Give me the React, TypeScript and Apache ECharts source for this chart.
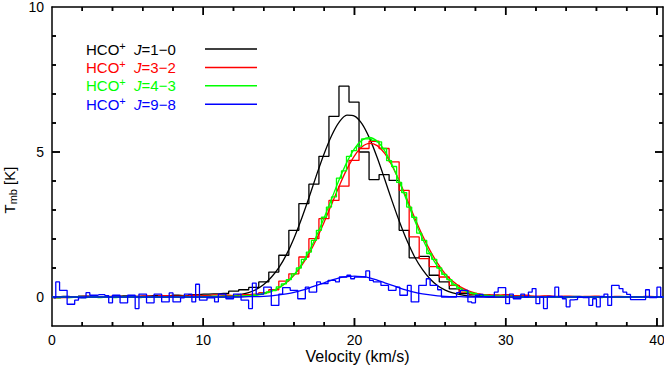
import React, { useEffect, useRef } from "react";
import * as echarts from "echarts";

const FONT = '"Liberation Sans", Arial, Helvetica, sans-serif';

// Axis extents and ticks
const X_MIN = 0;
const X_MAX = 40.4;
const Y_MIN = -1;
const Y_MAX = 10;
const X_LABELS = [0, 10, 20, 30, 40];
const X_TICKS = [2, 4, 6, 8, 10, 12, 14, 16, 18, 20, 22, 24, 26, 28, 30, 32, 34, 36, 38, 40];
const Y_LABELS = [0, 5, 10];
const Y_TICKS = [0, 1, 2, 3, 4, 5, 6, 7, 8, 9];

// Spectral channel grids (first channel centre, channel width, km/s)
const WIDE_V0 = 0.08;
const WIDE_DV = 0.663;
const GREEN_V0 = 0.08;
const GREEN_DV = 0.3315;
const BLUE_V0 = 0.125;
const BLUE_DV = 0.25;

// HCO+ J=1-0 spectrum (K)
const BLACK_HIST = [
  0.0, 0.02, 0.0, 0.03, 0.01, 0.0, 0.02, 0.04, 0.02, 0.03,
  0.05, 0.04, 0.06, 0.05, 0.08, 0.1, 0.11, 0.12, 0.2, 0.25,
  0.33, 0.52, 0.86, 1.44, 2.3, 3.22, 3.89, 4.85, 6.23, 7.27,
  6.72, 5.0, 4.05, 4.22, 4.02, 2.3, 1.35, 1.4, 0.75, 0.52,
  0.28, 0.12, 0.08, 0.05, 0.06, 0.03, 0.02, 0.03, 0.01, 0.02,
  0.0, 0.01, 0.02, 0.0, 0.01, 0.0, 0.01, 0.0, -0.01, 0.0,
  0.01, 0.0,
];

// HCO+ J=3-2 spectrum (K)
const RED_HIST = [
  -0.03, -0.02, 0.0, 0.02, 0.0, 0.01, 0.03, 0.01, 0.02, 0.04,
  0.02, 0.05, 0.03, 0.04, 0.06, 0.05, 0.07, 0.06, 0.05, 0.08,
  0.1, 0.15, 0.25, 0.55, 0.8, 1.38, 2.01, 2.7, 3.33, 3.82,
  4.71, 5.12, 5.37, 5.12, 4.66, 3.68, 2.07, 1.32, 1.05, 0.69,
  0.4, 0.17, 0.1, 0.08, 0.06, 0.08, 0.05, 0.06, 0.03, 0.04,
  0.02, 0.03, 0.01, 0.02, 0.03, 0.0, 0.02, 0.01, 0.0, 0.02,
  0.01, 0.0,
];

// HCO+ J=4-3 spectrum (K)
const GREEN_HIST = [
  -0.02, -0.03, 0.0, -0.02, -0.01, 0.01, -0.02, -0.01, 0.0, -0.02,
  -0.01, 0.0, -0.02, -0.01, 0.01, -0.01, 0.0, -0.02, 0.0, 0.01,
  -0.01, 0.0, 0.01, 0.0, -0.01, 0.01, 0.02, 0.0, 0.01, 0.02,
  0.01, 0.02, 0.03, 0.02, 0.03, 0.02, 0.04, 0.03, 0.04, 0.05,
  0.06, 0.08, 0.12, 0.18, 0.22, 0.35, 0.45, 0.6, 0.8, 1.0,
  1.3, 1.55, 1.95, 2.3, 2.75, 3.1, 3.45, 4.1, 4.35, 4.85,
  5.05, 5.2, 5.45, 5.45, 5.4, 5.35, 5.12, 4.7, 4.5, 3.95,
  3.6, 3.1, 2.75, 2.2, 1.95, 1.5, 1.3, 1.0, 0.78, 0.6,
  0.42, 0.3, 0.22, 0.15, 0.12, 0.08, 0.06, 0.05, 0.03, 0.04,
  0.02, 0.03, 0.01, 0.02, 0.0, 0.01, -0.01, 0.0, 0.01, -0.01,
  0.0, 0.01, -0.02, 0.0, -0.01, 0.01, 0.0, -0.01, 0.0, -0.02,
  0.0, 0.01, -0.01, 0.0, -0.01, 0.0, 0.01, -0.01, 0.0, -0.01,
  0.0, 0.0, -0.01,
];

// HCO+ J=9-8 spectrum (K)
const BLUE_HIST = [
  -0.03, 0.52, 0.23, 0.23, -0.25, -0.25, -0.11, -0.03, -0.03, 0.15,
  0.06, 0.06, 0.08, 0.08, 0.05, -0.2, 0.06, 0.06, -0.2, -0.2,
  0.06, 0.06, -0.4, 0.1, 0.1, -0.2, -0.2, 0.1, 0.1, -0.17,
  -0.17, 0.14, -0.17, -0.17, -0.03, 0.1, 0.1, -0.17, 0.44, -0.11,
  -0.11, -0.03, -0.03, -0.17, 0.1, 0.1, -0.06, -0.06, 0.1, 0.1,
  -0.11, -0.11, -0.4, 0.48, 0.1, 0.1, 0.34, 0.34, -0.29, -0.29,
  0.1, 0.32, 0.32, 0.23, 0.23, -0.06, -0.06, 0.34, 0.17, 0.17,
  0.52, 0.46, 0.46, 0.57, 0.57, 0.52, 0.69, 0.69, 0.75, 0.63,
  0.69, 0.69, 0.69, 0.9, 0.57, 0.52, 0.52, 0.4, 0.4, 0.23,
  0.23, 0.34, 0.06, 0.06, 0.4, -0.17, -0.17, 0.4, 0.4, 0.63,
  0.4, 0.4, 0.25, 0.0, 0.0, 0.0, 0.0, 0.15, 0.23, 0.23,
  -0.17, -0.2, 0.06, 0.09, 0.02, 0.02, 0.02, 0.17, 0.32, 0.32,
  -0.23, 0.1, -0.06, -0.06, 0.1, 0.0, 0.17, 0.29, -0.23, 0.0,
  -0.4, 0.02, 0.02, 0.34, 0.02, -0.06, -0.34, -0.1, -0.09, 0.0,
  -0.02, -0.02, -0.29, -0.06, -0.34, 0.02, 0.1, -0.29, 0.4, 0.4,
  0.29, 0.17, 0.09, -0.09, -0.09, -0.09, -0.09, 0.25, -0.02, -0.02,
  0.34, 0.0,
];

// Gaussian fit curves read at these velocities (km/s)
const FIT_V = [
  0, 5, 10, 11, 12, 12.5, 13, 13.5, 14, 14.5, 15, 15.5, 16, 16.5, 17, 17.5,
  18, 18.5, 19, 19.5, 20, 20.5, 21, 21.5, 22, 22.5, 23, 23.5, 24, 24.5, 25,
  25.5, 26, 26.5, 27, 27.5, 28, 28.5, 29, 30, 31, 35, 40.5,
];
const BLACK_FIT = [
  0, 0, 0.0, 0.01, 0.05, 0.09, 0.15, 0.26, 0.43, 0.68, 1.01, 1.46, 2.03, 2.7, 3.44, 4.22,
  4.95, 5.58, 6.04, 6.27, 6.24, 5.97, 5.47, 4.81, 4.06, 3.29, 2.56, 1.91, 1.36, 0.94, 0.62,
  0.39, 0.24, 0.14, 0.08, 0.04, 0.02, 0.01, 0.0, 0, 0, 0, 0,
];
const RED_FIT = [
  0, 0, 0, 0.0, 0.01, 0.02, 0.04, 0.07, 0.12, 0.2, 0.32, 0.5, 0.75, 1.08, 1.5, 2.01,
  2.59, 3.21, 3.84, 4.41, 4.87, 5.18, 5.3, 5.22, 4.95, 4.51, 3.96, 3.34, 2.71, 2.12, 1.6,
  1.16, 0.8, 0.54, 0.35, 0.22, 0.13, 0.07, 0.04, 0.01, 0.0, 0, 0,
];
const GREEN_FIT = [
  0, 0, 0, 0.0, 0.01, 0.02, 0.04, 0.07, 0.12, 0.2, 0.32, 0.51, 0.77, 1.13, 1.58, 2.12,
  2.74, 3.4, 4.06, 4.65, 5.12, 5.41, 5.5, 5.37, 5.04, 4.54, 3.93, 3.27, 2.61, 2.01, 1.48,
  1.05, 0.72, 0.47, 0.29, 0.18, 0.1, 0.06, 0.03, 0.01, 0.0, 0, 0,
];
const BLUE_FIT = [
  0, 0, 0, 0, 0.0, 0.0, 0.01, 0.01, 0.02, 0.04, 0.07, 0.11, 0.16, 0.23, 0.31, 0.4,
  0.49, 0.58, 0.66, 0.7, 0.72, 0.7, 0.66, 0.58, 0.49, 0.4, 0.31, 0.23, 0.16, 0.11, 0.07,
  0.04, 0.02, 0.01, 0.01, 0.0, 0.0, 0.0, 0, 0, 0, 0, 0,
];

// Legend
const LEGEND_SPECIES = "HCO";
const LEGEND_TRANSITIONS = ["=1−0", "=3−2", "=4−3", "=9−8"];
const LINE_COLORS = ["#000000", "#ff0000", "#00ff00", "#0000ff"];

const HISTS = [
  { v0: WIDE_V0, dv: WIDE_DV, data: BLACK_HIST },
  { v0: WIDE_V0, dv: WIDE_DV, data: RED_HIST },
  { v0: GREEN_V0, dv: GREEN_DV, data: GREEN_HIST },
  { v0: BLUE_V0, dv: BLUE_DV, data: BLUE_HIST },
];
const FITS = [BLACK_FIT, RED_FIT, GREEN_FIT, BLUE_FIT];

const MAJOR_LEN = 8;
const MINOR_LEN = 4;
const TICK_W = 1.5;

function buildOption() {
  const series: any[] = [];
  HISTS.forEach((h, k) => {
    series.push({
      type: "line",
      name: "hist" + k,
      step: "middle",
      symbol: "none",
      data: h.data.map((y, i) => [h.v0 + h.dv * i, y]),
      lineStyle: { color: LINE_COLORS[k], width: 1.3 },
      z: 2 + k * 2,
    });
    series.push({
      type: "line",
      name: "fit" + k,
      smooth: 0.3,
      symbol: "none",
      data: FIT_V.map((v, i) => [v, FITS[k][i]]),
      lineStyle: { color: LINE_COLORS[k], width: 1.3 },
      z: 3 + k * 2,
    });
  });

  // Tick marks through the axis scales (bottom + top, left + right)
  series.push({
    type: "custom",
    name: "xticks",
    data: X_TICKS.map((v) => [v, 0]),
    renderItem: (p: any, api: any) => {
      const v = api.value(0);
      const len = X_LABELS.indexOf(v) >= 0 ? MAJOR_LEN : MINOR_LEN;
      const b = api.coord([v, Y_MIN]);
      const t = api.coord([v, Y_MAX]);
      return {
        type: "group",
        children: [
          { type: "line", shape: { x1: b[0], y1: b[1], x2: b[0], y2: b[1] - len }, style: { stroke: "#000", lineWidth: TICK_W } },
          { type: "line", shape: { x1: t[0], y1: t[1], x2: t[0], y2: t[1] + len }, style: { stroke: "#000", lineWidth: TICK_W } },
        ],
      };
    },
  });
  series.push({
    type: "custom",
    name: "yticks",
    data: Y_TICKS.map((v) => [1, v]),
    renderItem: (p: any, api: any) => {
      const v = api.value(1);
      const len = Y_LABELS.indexOf(v) >= 0 ? MAJOR_LEN : MINOR_LEN;
      const l = api.coord([X_MIN, v]);
      const r = api.coord([X_MAX, v]);
      return {
        type: "group",
        children: [
          { type: "line", shape: { x1: l[0], y1: l[1], x2: l[0] + len, y2: l[1] }, style: { stroke: "#000", lineWidth: TICK_W } },
          { type: "line", shape: { x1: r[0], y1: r[1], x2: r[0] - len, y2: r[1] }, style: { stroke: "#000", lineWidth: TICK_W } },
        ],
      };
    },
  });

  const frameLine = { show: true, onZero: false, lineStyle: { color: "#000", width: 1.5 } };
  const baseX = { type: "value", min: X_MIN, max: X_MAX, splitLine: { show: false }, axisTick: { show: false } };
  const baseY = { type: "value", min: Y_MIN, max: Y_MAX, splitLine: { show: false }, axisTick: { show: false } };
  const labelStyle = { fontSize: 14, color: "#000", fontFamily: FONT, lineHeight: 14 };

  const legendGraphics: any[] = [];
  LEGEND_TRANSITIONS.forEach((t, k) => {
    const y = 49 + k * 18.4;
    const c = LINE_COLORS[k];
    legendGraphics.push({
      type: "text",
      id: "lt" + k,
      x: 86,
      y,
      style: {
        text: `{n|${LEGEND_SPECIES}}{s|+}{n|  }{j|J}{n|${t}}`,
        verticalAlign: "middle",
        align: "left",
        rich: {
          n: { fontSize: 15, fontFamily: FONT, fill: c, lineHeight: 18 },
          j: { fontSize: 15, fontFamily: FONT, fill: c, fontStyle: "italic", lineHeight: 18 },
          s: { fontSize: 11, fontFamily: FONT, fill: c, verticalAlign: "top", lineHeight: 11 },
        },
      },
    });
    legendGraphics.push({
      type: "line",
      id: "ll" + k,
      shape: { x1: 205, y1: y, x2: 257, y2: y },
      style: { stroke: c, lineWidth: 1.5 },
    });
  });

  return {
    animation: false,
    grid: { left: 52, right: 1, top: 7, bottom: 39, containLabel: false, outerBoundsMode: "none" },
    xAxis: [
      {
        ...baseX,
        position: "bottom",
        axisLine: frameLine,
        axisLabel: { ...labelStyle, margin: 7, customValues: X_LABELS },
        name: "Velocity (km/s)",
        nameLocation: "middle",
        nameGap: 22,
        nameMoveOverlap: false,
        nameTextStyle: { fontSize: 16, color: "#000", fontFamily: FONT, lineHeight: 16 },
      },
      { ...baseX, position: "top", axisLine: frameLine, axisLabel: { show: false } },
    ],
    yAxis: [
      {
        ...baseY,
        position: "left",
        axisLine: frameLine,
        axisLabel: { ...labelStyle, margin: 8, customValues: Y_LABELS },
      },
      { ...baseY, position: "right", axisLine: frameLine, axisLabel: { show: false } },
    ],
    graphic: [
      ...legendGraphics,
      {
        type: "text",
        id: "yname",
        x: 9,
        y: 190,
        rotation: Math.PI / 2,
        style: {
          text: "{t|T}{sub|mb}{t| [K]}",
          align: "center",
          verticalAlign: "middle",
          rich: {
            t: { fontSize: 15, fontFamily: FONT, fill: "#000", lineHeight: 18 },
            sub: { fontSize: 11, fontFamily: FONT, fill: "#000", verticalAlign: "bottom", lineHeight: 11 },
          },
        },
      },
    ],
    series,
  };
}

// Same tick marks as graphic lines, placed with convertToPixel (overlaps the custom ones)
function buildTicks(chart: any) {
  const els: any[] = [];
  const px = (v: number) => Number(chart.convertToPixel({ xAxisIndex: 0 }, v));
  const py = (v: number) => Number(chart.convertToPixel({ yAxisIndex: 0 }, v));
  const yb = py(Y_MIN);
  const yt = py(Y_MAX);
  const xl = px(X_MIN);
  const xr = px(X_MAX);
  let n = 0;
  X_TICKS.forEach((v) => {
    const len = X_LABELS.indexOf(v) >= 0 ? MAJOR_LEN : MINOR_LEN;
    const x = px(v);
    els.push({ type: "line", id: "tk" + n++, shape: { x1: x, y1: yb, x2: x, y2: yb - len }, style: { stroke: "#000", lineWidth: TICK_W } });
    els.push({ type: "line", id: "tk" + n++, shape: { x1: x, y1: yt, x2: x, y2: yt + len }, style: { stroke: "#000", lineWidth: TICK_W } });
  });
  Y_TICKS.forEach((v) => {
    const len = Y_LABELS.indexOf(v) >= 0 ? MAJOR_LEN : MINOR_LEN;
    const y = py(v);
    els.push({ type: "line", id: "tk" + n++, shape: { x1: xl, y1: y, x2: xl + len, y2: y }, style: { stroke: "#000", lineWidth: TICK_W } });
    els.push({ type: "line", id: "tk" + n++, shape: { x1: xr, y1: y, x2: xr - len, y2: y }, style: { stroke: "#000", lineWidth: TICK_W } });
  });
  return els.filter((e) => isFinite(e.shape.x1) && isFinite(e.shape.y1));
}

export default function App() {
  const ref = useRef<HTMLDivElement>(null);
  useEffect(() => {
    document.body.style.margin = "0";
    if (!ref.current) return;
    const chart = echarts.init(ref.current, undefined, { renderer: "svg" });
    chart.setOption(buildOption() as any);
    try {
      const ticks = buildTicks(chart);
      chart.setOption({ graphic: { elements: ticks } } as any);
    } catch (e) {
      // custom-series ticks remain
    }
    return () => chart.dispose();
  }, []);
  return <div ref={ref} style={{ width: 664, height: 365 }} />;
}
